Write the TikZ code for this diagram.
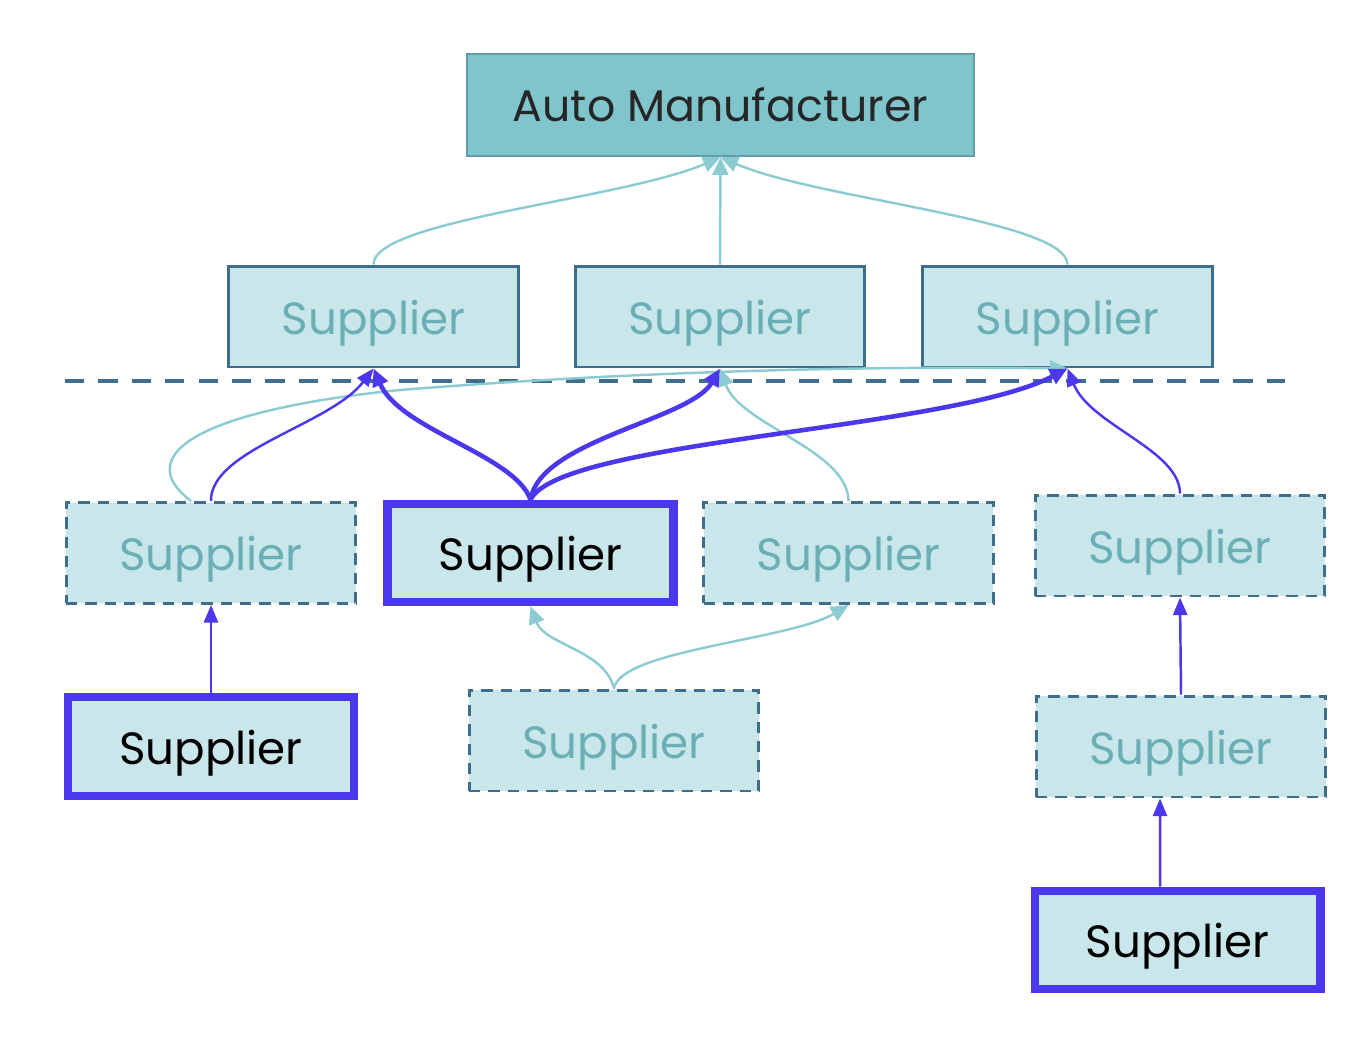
\documentclass[tikz,border=0pt]{standalone}
\usepackage{fontspec}
\setmainfont{Poppins}
\usepackage{tikz}
\usetikzlibrary{arrows.meta}
\definecolor{autofill}{HTML}{80C4CC}
\definecolor{autoline}{HTML}{5E9DA8}
\definecolor{supfill}{HTML}{C9E6EB}
\definecolor{supline}{HTML}{3F6E8C}
\definecolor{suptext}{HTML}{6AAFB6}
\definecolor{hiblue}{HTML}{4B38EC}
\definecolor{linkteal}{HTML}{8CCBD2}
\tikzstyle{maker}=[draw=autoline, line width=1.2pt, fill=autofill, minimum width=10.15cm, minimum height=2.05cm, text=black!85, font=\fontsize{25.2}{30}\selectfont]
\tikzstyle{supplier}=[draw=supline, line width=1.7pt, fill=supfill, minimum width=5.8cm, minimum height=2.02cm, text=suptext, text height=26pt, text depth=6pt, font=\fontsize{25.7}{30}\selectfont]
\tikzstyle{hidden}=[supplier, dash pattern=on 6.5pt off 4.5pt]
\tikzstyle{chosen}=[supplier, draw=hiblue, line width=4.6pt, minimum width=5.72cm, minimum height=1.97cm, text=black]
\tikzstyle{tealink}=[draw=linkteal, line width=1.4pt, -{Triangle[length=10pt,width=9pt]}]
\tikzstyle{bluelink}=[draw=hiblue, line width=1.4pt, -{Triangle[length=10pt,width=8pt]}]
\tikzstyle{boldlink}=[draw=hiblue, line width=2.6pt, -{Triangle[length=10pt,width=9pt]}]

\begin{document}
\begin{tikzpicture}[x={(0.02cm,0)}, y={(0,-0.02cm)}]
    \useasboundingbox (0,0) rectangle (1369,1041);

    % tier one and the maker
    \node[maker] (auto) at (720.5,105) {Auto Manufacturer};
    \foreach \name/\x in {s1/373.5, s2/720, s3/1067.5}{
        \node[supplier] (\name) at (\x,316.5) {Supplier};
        }

    \draw[supline, line width=2.4pt, dash pattern=on 11pt off 8pt] (65,381) -- (1285,381);

    % lower tiers
    \node[hidden] (s4) at (211,553) {Supplier};
    \node[chosen] (s5) at (530.5,553) {Supplier};
    \node[hidden] (s6) at (848.5,553) {Supplier};
    \node[hidden] (s7) at (1180,545.5) {Supplier};
    \node[chosen] (s8) at (211,746.5) {Supplier};
    \node[hidden] (s9) at (614,740.5) {Supplier};
    \node[hidden] (s10) at (1181,746.5) {Supplier};
    \node[chosen] (s11) at (1177.5,940) {Supplier};

    \draw[tealink] (s1.north) .. controls (373,220) and (620,200) .. (auto.south);
    \draw[tealink] (s2.north) -- (auto.south);
    \draw[tealink] (s3.north) .. controls (1067,220) and (820,200) .. (auto.south);

    \draw[tealink] (s4.111) .. controls (130,455) and (200,410) .. (400,390)
        .. controls (700,366) and (950,367) .. (s3.south);
    \draw[tealink] (s6.north) .. controls (848,450) and (740,425) .. (s2.south);
    \draw[tealink] (s9.north) .. controls (605,650) and (545,645) .. (s5.south);
    \draw[tealink] (s9.north) .. controls (620,650) and (790,640) .. (s6.south);

    \draw[bluelink] (s4.north) .. controls (210,450) and (330,425) .. (s1.south);
    \draw[bluelink] (s7.north) .. controls (1180,450) and (1090,425) .. (s3.south);
    \draw[bluelink] (s8.north) -- (s4.south);
    \draw[bluelink] (s10.north) -- (s7.south);
    \draw[bluelink] (s11.108) -- (s10.248);

    \draw[boldlink] (s5.north) .. controls (515,455) and (400,430) .. (s1.south);
    \draw[boldlink] (s5.north) .. controls (540,440) and (690,420) .. (s2.south);
    \draw[boldlink] (s5.north) .. controls (560,440) and (950,430) .. (s3.south);

\end{tikzpicture}
\end{document}
